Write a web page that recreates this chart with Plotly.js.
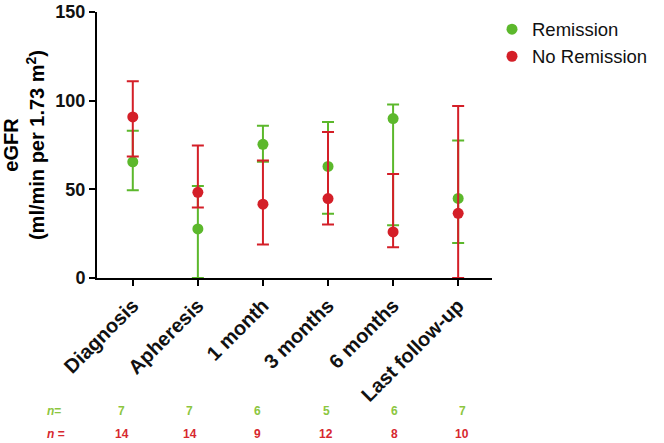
<!DOCTYPE html>
<html lang="en">
<head>
    <meta charset="UTF-8">
    <title>eGFR by remission status</title>
    <script src="https://cdn.plot.ly/plotly-3.0.1.min.js"></script>
    <style>
        body { margin: 0; background: #fff; }
        #chart { width: 664px; height: 443px; }
    </style>
</head>
<body>
    <div id="chart"></div>
    <script>
        const categories = ['Diagnosis', 'Apheresis', '1 month', '3 months', '6 months', 'Last follow-up'];

        // Remission: mean with upper / lower bar ends
        const remMean  = [65.5, 27.7, 75.4, 62.9, 89.9, 44.9];
        const remUpper = [83.0, 51.9, 85.8, 88.0, 97.8, 77.5];
        const remLower = [49.5, 0.0, 65.5, 36.3, 29.8, 19.7];

        // No remission
        const noMean  = [90.8, 48.3, 41.6, 44.8, 26.0, 36.5];
        const noUpper = [111.0, 74.7, 66.3, 82.4, 58.6, 97.0];
        const noLower = [68.5, 39.7, 18.9, 30.2, 17.4, 0.0];

        const nRem = [7, 7, 6, 5, 6, 7];
        const nNo = [14, 14, 9, 12, 8, 10];

        const green = '#5cb82c';
        const red = '#d41f28';
        const font = 'Liberation Sans, Arial, sans-serif';

        function trace(name, mean, upper, lower, color) {
            return {
                x: categories,
                y: mean,
                name: name,
                type: 'scatter',
                mode: 'markers',
                marker: { color: color, size: 11 },
                error_y: {
                    type: 'data',
                    symmetric: false,
                    array: upper.map((u, i) => u - mean[i]),
                    arrayminus: lower.map((l, i) => mean[i] - l),
                    color: color,
                    thickness: 2,
                    width: 6
                },
                cliponaxis: false
            };
        }

        const data = [
            trace('Remission', remMean, remUpper, remLower, green),
            trace('No Remission', noMean, noUpper, noLower, red)
        ];

        // n= rows under the axis
        const plotLeft = 97, plotWidth = 400;
        const annotations = [
            { text: '<i>n</i>=', color: '#8cc63e', y: 412 },
            { text: '<i>n</i> =', color: '#d7282f', y: 435 }
        ].map(r => ({
            text: r.text, xref: 'paper', yref: 'paper',
            x: (44 - plotLeft) / plotWidth, xanchor: 'left',
            y: (278 - r.y) / 267, yanchor: 'middle',
            showarrow: false,
            font: { family: font, size: 12, color: r.color, weight: 'bold' }
        }));
        nRem.forEach((n, i) => {
            annotations.push({
                text: String(n), xref: 'paper', yref: 'paper',
                x: (122 + 69 * i - plotLeft) / plotWidth, xanchor: 'center',
                y: (278 - 412) / 267, yanchor: 'middle', showarrow: false,
                font: { family: font, size: 12, color: '#8cc63e', weight: 'bold' }
            });
        });
        nNo.forEach((n, i) => {
            annotations.push({
                text: String(n), xref: 'paper', yref: 'paper',
                x: (122 + 69 * i - plotLeft) / plotWidth, xanchor: 'center',
                y: (278 - 435) / 267, yanchor: 'middle', showarrow: false,
                font: { family: font, size: 12, color: '#d7282f', weight: 'bold' }
            });
        });

        const layout = {
            width: 664,
            height: 443,
            margin: { l: 97, r: 167, t: 11, b: 165 },
            paper_bgcolor: '#fff',
            plot_bgcolor: '#fff',
            font: { family: font, color: '#000' },
            showlegend: true,
            legend: {
                x: 1.0, y: 1.005, xanchor: 'left', yanchor: 'top',
                font: { family: font, size: 18.5, color: '#111' },
                bgcolor: 'rgba(0,0,0,0)'
            },
            xaxis: {
                type: 'category',
                range: [-0.55, 5.52],
                automargin: false,
                showline: true, linecolor: '#000', linewidth: 2,
                ticks: 'outside', ticklen: 6, tickwidth: 2, tickcolor: '#000',
                tickangle: -45,
                tickfont: { family: font, size: 20, color: '#111', weight: 'bold' },
                showgrid: false, zeroline: false, fixedrange: true
            },
            yaxis: {
                range: [0, 150],
                tickvals: [0, 50, 100, 150],
                automargin: false,
                showline: true, linecolor: '#000', linewidth: 2,
                ticks: 'outside', ticklen: 6, tickwidth: 2, tickcolor: '#000',
                tickfont: { family: font, size: 18, color: '#111', weight: 'bold' },
                showgrid: false, zeroline: false, fixedrange: true,
                title: {
                    text: 'eGFR<br>(ml/min per 1.73 m<sup>2</sup>)',
                    font: { family: font, size: 20, color: '#000', weight: 'bold' },
                    standoff: 6
                }
            },
            annotations: annotations
        };

        Plotly.newPlot('chart', data, layout, { displayModeBar: false, staticPlot: true });
    </script>
</body>
</html>
